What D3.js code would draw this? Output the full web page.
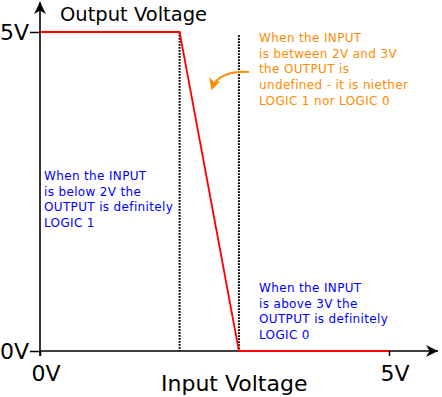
<!DOCTYPE html>
<html><head><meta charset="utf-8">
<script src="https://cdn.jsdelivr.net/npm/d3@7"></script>
<style>
html,body{margin:0;padding:0;background:#fff;}
svg{display:block;font-family:"DejaVu Sans",sans-serif;}
</style></head>
<body>
<svg id="chart" width="442" height="397"></svg>
<script>
// Data
const inputV = [0, 2, 2.85, 5];
const outputV = [5, 5, 0, 0];
const thresholds = [2, 2.85];
const thresholdTops = [5, 4.95];
const xTickValues = [0, 5];
const xTickLabels = ["0V", "5V"];
const yTickValues = [0, 5];
const yTickLabels = ["0V", "5V"];
const xTitle = "Input Voltage";
const yTitle = "Output Voltage";
const noteLow = ["When the INPUT", "is below 2V the", "OUTPUT is definitely", "LOGIC 1"];
const noteMid = ["When the INPUT", "is between 2V and 3V", "the OUTPUT is", "undefined - it is niether", "LOGIC 1 nor LOGIC 0"];
const noteHigh = ["When the INPUT", "is above 3V the", "OUTPUT is definitely", "LOGIC 0"];

const svg = d3.select("#chart");
const x = d3.scaleLinear().domain([0, 5]).range([40, 389]);
const y = d3.scaleLinear().domain([0, 5]).range([351, 32]);

const orange = "#ff8c00";
const blue = "#0000ff";

// defs markers
const defs = svg.append("defs");
defs.append("marker").attr("id", "arrBlack").attr("viewBox", "0 0 10 10")
  .attr("refX", 10).attr("refY", 5).attr("markerWidth", 12).attr("markerHeight", 12)
  .attr("markerUnits", "userSpaceOnUse").attr("orient", "auto")
  .append("path").attr("d", "M0,0 L10,5 L0,10 L3,5 Z").attr("fill", "#000");
defs.append("marker").attr("id", "arrOrange").attr("viewBox", "0 0 10 10")
  .attr("refX", 8).attr("refY", 5).attr("markerWidth", 12).attr("markerHeight", 12)
  .attr("markerUnits", "userSpaceOnUse").attr("orient", "auto")
  .append("path").attr("d", "M0,0 L10,5 L0,10 L3,5 Z").attr("fill", orange);

// threshold dotted lines
svg.selectAll("line.th").data(thresholds).enter().append("line")
  .attr("class", "th")
  .attr("x1", d => x(d)).attr("x2", d => x(d))
  .attr("y1", (d, i) => y(thresholdTops[i])).attr("y2", y(0))
  .attr("stroke", "#000").attr("stroke-width", 2)
  .attr("stroke-dasharray", "1.8,1.2");

// axes
const xAxis = d3.axisBottom(x).tickValues(xTickValues).tickSize(5)
  .tickFormat((d, i) => xTickLabels[i]);
const gx = svg.append("g").attr("transform", `translate(0,${y(0)})`).call(xAxis);
gx.select(".domain").remove();
gx.selectAll(".tick line").attr("stroke", "#000").attr("stroke-width", 1.5);
gx.selectAll(".tick text").attr("font-size", 22).attr("font-family", "DejaVu Sans")
  .attr("fill", "#000").attr("dy", null).attr("y", 30)
  .attr("text-anchor", "start").attr("x", -9);

const yAxis = d3.axisLeft(y).tickValues(yTickValues).tickSize(10)
  .tickFormat((d, i) => yTickLabels[i]);
const gy = svg.append("g").attr("transform", `translate(${x(0)},0)`).call(yAxis);
gy.select(".domain").remove();
gy.selectAll(".tick line").attr("stroke", "#000").attr("stroke-width", 1.5);
gy.selectAll(".tick text").attr("font-size", 22).attr("font-family", "DejaVu Sans")
  .attr("fill", "#000").attr("text-anchor", "start").attr("x", -40).attr("dy", "0.35em");

// axis lines with arrows
svg.append("line").attr("x1", x(0)).attr("x2", 438).attr("y1", y(0)).attr("y2", y(0))
  .attr("stroke", "#000").attr("stroke-width", 1.6).attr("marker-end", "url(#arrBlack)");
svg.append("line").attr("x1", x(0)).attr("x2", x(0)).attr("y1", y(0) + 5).attr("y2", 2)
  .attr("stroke", "#000").attr("stroke-width", 1.6).attr("marker-end", "url(#arrBlack)");

// transfer curve
const pts = inputV.map((v, i) => [v, outputV[i]]);
svg.append("path").datum(pts)
  .attr("d", d3.line().x(d => x(d[0])).y(d => y(d[1])))
  .attr("fill", "none").attr("stroke", "#ff0000").attr("stroke-width", 1.8);

// titles
svg.append("text").attr("x", 60).attr("y", 21).attr("font-size", 19.5).text(yTitle);
svg.append("text").attr("x", 161).attr("y", 391).attr("font-size", 22)
  .attr("text-anchor", "start").text(xTitle);

// notes
function note(lines, x0, y0, color) {
  const t = svg.append("text").attr("font-size", 12).attr("letter-spacing", 0.35).attr("fill", color);
  lines.forEach((l, i) => t.append("tspan").attr("x", x0).attr("y", y0 + i * 15.7).text(l));
}
note(noteLow, 44, 180, blue);
note(noteMid, 259, 42, orange);
note(noteHigh, 259, 292, blue);

// curved orange arrow
svg.append("path").attr("d", "M249,72 C231,71 216,76 212,88")
  .attr("fill", "none").attr("stroke", orange).attr("stroke-width", 2)
  .attr("marker-end", "url(#arrOrange)");
</script>
</body></html>
